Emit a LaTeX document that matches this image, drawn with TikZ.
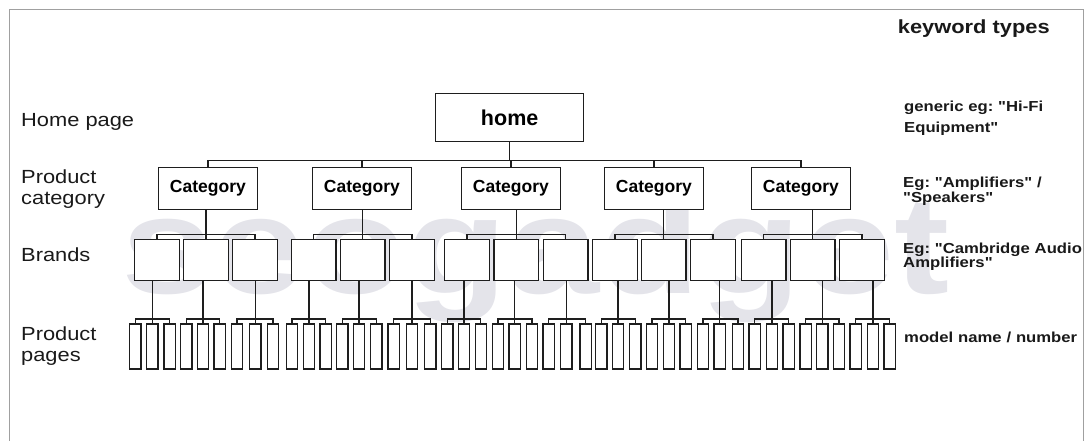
\documentclass[tikz,border=0pt]{standalone}
\usepackage{fontspec}
\setmainfont{Liberation Sans}
\newfontfamily\lblfont[FakeStretch=1.15]{Liberation Sans}
\newfontfamily\wmfont[FakeStretch=1.2]{Liberation Sans}
\usetikzlibrary{calc}
\definecolor{linec}{RGB}{30,30,30}
\definecolor{framec}{RGB}{160,160,160}
\definecolor{wmc}{RGB}{228,228,234}
\definecolor{txtc}{RGB}{25,25,25}
\tikzset{
  conn/.style={draw=linec, line width=1.3pt},
  boxbase/.style={draw=linec, fill=white, line width=1.3pt, inner sep=0pt, anchor=north west},
  homebox/.style={boxbase, minimum width=148pt, minimum height=48pt, font=\bfseries\fontsize{21.5}{24}\selectfont},
  catbox/.style={boxbase, minimum width=98.5pt, minimum height=42pt, font=\bfseries\fontsize{17.5}{20}\selectfont},
  brandbox/.style={boxbase, minimum width=44.5pt, minimum height=41pt},
  prodbox/.style={boxbase, minimum width=11.3pt, minimum height=45pt},
  lbl/.style={anchor=base west, inner sep=0pt, text=txtc, font=\lblfont\fontsize{19}{20.7}\selectfont},
  lbltwo/.style={lbl, text width=140pt, align=left},
  kwlbl/.style={anchor=base west, inner sep=0pt, text=txtc, font=\lblfont\bfseries\fontsize{19}{21}\selectfont},
  rlbl/.style={anchor=base west, inner sep=0pt, text=txtc, text width=200pt, align=left},
  wm/.style={anchor=base west, inner sep=0pt, text=wmc, font=\wmfont\bfseries\fontsize{138}{138}\selectfont}
}
\frenchspacing
\begin{document}
\begin{tikzpicture}[x=1pt,y=-1pt]
\useasboundingbox (0,0) rectangle (1091,441);
% watermark
\node[wm] (wmark) at (121,293) {seogadget};
% frame
\draw[framec, line width=1pt] (9.5,441) -- (9.5,10) -- (1083,10) -- (1083,441);
% home
\node[homebox] (home) at (435,93) {home};
% categories
\foreach \i/\x in {1/158,2/312,3/461,4/604,5/751}
  \node[catbox] (cat\i) at (\x,167) {Category};
% brands
\foreach \g/\xa/\xb/\xc in {1/134/183/232, 2/290.7/339.7/389, 3/444/493.3/542.7, 4/592/640.7/690, 5/740.7/789.7/839} {
  \node[brandbox] (b\g1) at (\xa,239) {};
  \node[brandbox] (b\g2) at (\xb,239) {};
  \node[brandbox] (b\g3) at (\xc,239) {};
}
% products
\foreach \x [count=\k from 0] in {129,146,163.3,180,196.7,213.3,230.7,249,266.7,285.7,302.7,319.3,336,352.7,370,387.3,405.7,424,441,457.7,474.5,491.7,508.3,525.7,542.3,560,579.3,595,611.7,629,645.7,662.7,679.3,696.7,713.3,731.7,748.3,765.7,782.3,799.3,816,832.7,849.3,866.7,883.3}
  \node[prodbox] (p\k) at (\x,323.3) {};
% home -> categories
\foreach \i in {1,...,5}
  \draw[conn] (home.south) -- ++(0,18) -| (cat\i.north);
% categories -> brands
\foreach \g in {1,...,5} {
  \draw[conn] (cat\g.south -| b\g2.north) -- (b\g2.north);
  \draw[conn] (cat\g.south -| b\g2.north) -- ++(0,24.3) -| (b\g1.north);
  \draw[conn] (cat\g.south -| b\g2.north) -- ++(0,24.3) -| (b\g3.north);
}
% brands -> products
\foreach \g in {1,...,5} {
  \foreach \j in {1,2,3} {
    \pgfmathtruncatemacro\pm{3*(3*(\g-1)+(\j-1))+1}
    \pgfmathtruncatemacro\pl{\pm-1}
    \pgfmathtruncatemacro\pr{\pm+1}
    \draw[conn] (b\g\j.south -| p\pm.north) -- (p\pm.north);
    \draw[conn] (b\g\j.south -| p\pm.north) -- ++(0,37.7) -| (p\pl.north);
    \draw[conn] (b\g\j.south -| p\pm.north) -- ++(0,37.7) -| (p\pr.north);
  }
}
% left labels
\node[lbl] (lhome) at (21,126) {Home page};
\node[lbltwo] (lcat) at (21,183.3) {Product\\category};
\node[lbl] (lbrands) at (21,261.7) {Brands};
\node[lbltwo] (lpages) at (21,340.7) {Product\\pages};
% right labels
\node[kwlbl] (kw) at (897.7,34) {keyword types};
\node[rlbl, font=\lblfont\bfseries\fontsize{14.5}{21.5}\selectfont] (kgen) at (904,111) {generic eg: "Hi-Fi\\Equipment"};
\node[rlbl, font=\lblfont\bfseries\fontsize{14.5}{15.3}\selectfont] (kcat) at (903,187) {Eg: "Amplifiers" /\\"Speakers"};
\node[rlbl, font=\lblfont\bfseries\fontsize{14.5}{14.4}\selectfont] (kbrand) at (903,253.3) {Eg: "Cambridge Audio\\Amplifiers"};
\node[rlbl, font=\lblfont\bfseries\fontsize{14.5}{15}\selectfont] (kprod) at (904,342.7) {model name / number};
\end{tikzpicture}
\end{document}
